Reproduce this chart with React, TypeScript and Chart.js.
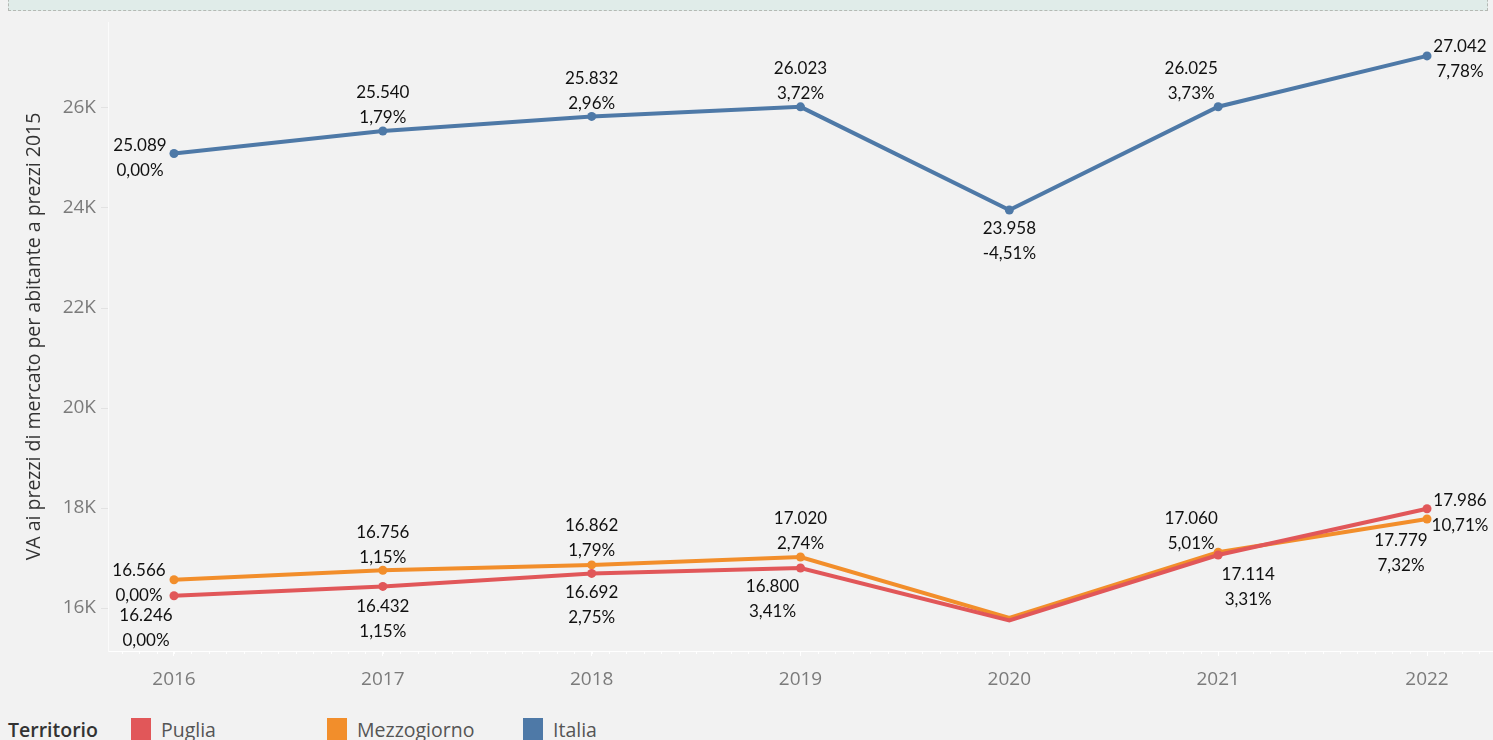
import React, { useEffect, useRef } from "react";
import { Chart, registerables } from "chart.js";

Chart.register(...registerables);

const years = [2016, 2017, 2018, 2019, 2020, 2021, 2022];
const puglia = [16246, 16432, 16692, 16800, 15750, 17060, 17986];
const mezzogiorno = [16566, 16756, 16862, 17020, 15800, 17114, 17779];
const italia = [25089, 25540, 25832, 26023, 23958, 26025, 27042];
const pugliaPct = ["0,00%", "1,15%", "2,75%", "3,41%", null, "5,01%", "10,71%"];
const mezzogiornoPct = ["0,00%", "1,15%", "1,79%", "2,74%", null, "3,31%", "7,32%"];
const italiaPct = ["0,00%", "1,79%", "2,96%", "3,72%", "-4,51%", "3,73%", "7,78%"];
const yTicks = [16000, 18000, 20000, 22000, 24000, 26000];
const seriesNames = ["Puglia", "Mezzogiorno", "Italia"];
const seriesColors = ["#e15759", "#f28e2b", "#4e79a7"];

// label placement (dx, dy of first line relative to the point), per series
const placements: Array<Array<[number, number] | null>> = [
  [[-28, 20], [0, 20], [0, 19], [-28, 19], null, [-27, -36], [33, -8]],
  [[-35, -9], [0, -38], [0, -39], [0, -38], null, [30, 22], [-26, 21]],
  [[-34, -8], [0, -38], [0, -38], [0, -38], [0, 18], [-27, -38], [33, -9]],
];

const fmt = (v: number) => v.toLocaleString("de-DE");

const labelPlugin = {
  id: "pointLabels",
  afterDatasetsDraw(chart: any) {
    const ctx = chart.ctx;
    const pcts = [pugliaPct, mezzogiornoPct, italiaPct];
    ctx.save();
    ctx.font = "17px Lato, 'Open Sans', sans-serif";
    ctx.fillStyle = "#111";
    ctx.textAlign = "center";
    ctx.textBaseline = "middle";
    chart.data.datasets.forEach((ds: any, di: number) => {
      const meta = chart.getDatasetMeta(di);
      meta.data.forEach((pt: any, i: number) => {
        const pl = placements[di][i];
        if (!pl) return;
        const x = pt.x + pl[0];
        const y = pt.y + pl[1];
        ctx.fillText(fmt(ds.data[i].y), x, y);
        const p = pcts[di][i];
        if (p) ctx.fillText(p, x, y + 25);
      });
    });
    ctx.restore();
  },
};

const minorTicksPlugin = {
  id: "minorTicks",
  afterDraw(chart: any) {
    const { ctx, chartArea } = chart;
    const xs = chart.scales.x;
    ctx.save();
    ctx.strokeStyle = "#ffffff";
    ctx.lineWidth = 1;
    const step = (xs.getPixelForValue(2017) - xs.getPixelForValue(2016)) / 12;
    for (let px = xs.getPixelForValue(2016) - step * 3; px < chartArea.right; px += step) {
      if (px < chartArea.left) continue;
      ctx.beginPath();
      ctx.moveTo(Math.round(px) + 0.5, chartArea.bottom);
      ctx.lineTo(Math.round(px) + 0.5, chartArea.bottom + 3);
      ctx.stroke();
    }
    ctx.restore();
  },
};

export default function App() {
  const ref = useRef<HTMLCanvasElement | null>(null);

  useEffect(() => {
    document.body.style.margin = "0";
    document.body.style.background = "#f2f2f2";
    const values = [puglia, mezzogiorno, italia];
    const chart = new Chart(ref.current as HTMLCanvasElement, {
      type: "line",
      data: {
        datasets: seriesNames.map((name, si) => ({
          label: name,
          data: years.map((yr, i) => ({ x: yr, y: values[si][i] })),
          borderColor: seriesColors[si],
          backgroundColor: seriesColors[si],
          borderWidth: 4,
          pointRadius: years.map((_, i) => (si < 2 && i === 4 ? 0 : 4.5)),
          pointHoverRadius: 4.5,
          pointBorderWidth: 0,
          tension: 0,
          clip: false as any,
        })),
      },
      options: {
        animation: false,
        responsive: true,
        maintainAspectRatio: false,
        layout: { autoPadding: false, padding: { top: 22, right: 0, left: 0, bottom: 0 } },
        plugins: { legend: { display: false }, tooltip: { enabled: false } },
        scales: {
          x: {
            type: "linear",
            min: 2015.684,
            max: 2022.316,
            afterBuildTicks: (s: any) => {
              s.ticks = years.map((v) => ({ value: v }));
            },
            afterFit: (s: any) => {
              s.height = 49;
              s.paddingLeft = 0;
              s.paddingRight = 0;
            },
            grid: { drawOnChartArea: false, drawTicks: true, tickLength: 5, color: "#ffffff" },
            border: { display: true, color: "#ffffff", width: 1 },
            ticks: {
              padding: 12,
              color: "#7b7b7b",
              font: { family: "'Open Sans', sans-serif", size: 19 },
              callback: (v: any) => String(v),
            },
          },
          y: {
            min: 15140,
            max: 27720,
            afterBuildTicks: (s: any) => {
              s.ticks = yTicks.map((v) => ({ value: v }));
            },
            afterFit: (s: any) => {
              s.width = 108;
            },
            grid: { drawOnChartArea: false, drawTicks: true, tickLength: 7, color: "#e2e2e2" },
            border: { display: true, color: "#fbfbfb", width: 1 },
            ticks: {
              padding: 5,
              color: "#7b7b7b",
              font: { family: "'Open Sans', sans-serif", size: 19 },
              callback: (v: any) => Number(v) / 1000 + "K",
            },
            title: {
              display: true,
              text: "VA ai prezzi di mercato per abitante a prezzi 2015",
              color: "#333",
              font: { family: "'Open Sans', sans-serif", size: 19.5 },
              padding: { top: 23, bottom: 0 },
            },
          },
        },
      },
      plugins: [labelPlugin, minorTicksPlugin],
    });
    return () => chart.destroy();
  }, []);

  return (
    <div
      style={{
        position: "fixed",
        left: 0,
        top: 0,
        width: 1493,
        height: 740,
        background: "#f2f2f2",
        overflow: "hidden",
        fontFamily: "'Open Sans', sans-serif",
      }}
    >
      <div
        style={{
          position: "absolute",
          left: 8,
          top: -20,
          width: 1478,
          height: 29,
          background: "#e0ece9",
          border: "1px dashed #b5b9b4",
        }}
      />
      <div style={{ position: "absolute", left: 0, top: 0, width: 1493, height: 700 }}>
        <canvas ref={ref} />
      </div>
      <div
        style={{
          position: "absolute",
          left: 8,
          top: 716,
          height: 26,
          display: "flex",
          alignItems: "center",
          fontSize: 19.5,
        }}
      >
        <span style={{ color: "#333", fontWeight: 600, width: 123 }}>Territorio</span>
        {seriesNames.map((n, i) => (
          <span key={n} style={{ display: "flex", alignItems: "center", width: 196 }}>
            <span
              style={{
                display: "inline-block",
                width: 20,
                height: 22,
                background: seriesColors[i],
                marginRight: 10,
              }}
            />
            <span style={{ color: "#555" }}>{n}</span>
          </span>
        ))}
      </div>
    </div>
  );
}
